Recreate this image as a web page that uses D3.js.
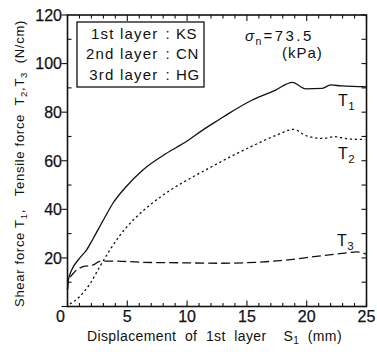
<!DOCTYPE html>
<html>
<head>
<meta charset="utf-8">
<script src="https://cdn.jsdelivr.net/npm/d3@7"></script>
<style>
  html, body { margin: 0; padding: 0; background: #fff; }
  svg { display: block; font-family: "Liberation Sans", Arial, Helvetica, sans-serif; }
</style>
</head>
<body>
<svg id="chart" width="377" height="352"></svg>
<script>
// Shear force T1 and tensile forces T2, T3 against displacement S1
const t1Disp  = [0, 0.05, 0.35, 1.0, 1.6, 2.15, 3.0, 3.8, 4.9, 6.3, 8.25, 9.9, 11.3, 12.7, 13.5, 15.45, 17.4, 18.8, 19.9, 21.3, 22.0, 22.9, 24.7, 25];
const t1Force = [7, 10.5, 15, 19.8, 23.3, 28, 35.6, 42.5, 49.3, 56.2, 63, 67.8, 72.6, 77, 79.5, 85, 89.1, 92.3, 89.6, 89.8, 91.2, 90.8, 90.5, 90.4];

const t2Disp  = [0.2, 1.0, 1.9, 2.7, 3.55, 4.4, 5.5, 6.9, 8.6, 10.5, 12.3, 13.6, 15.6, 17.5, 18.9, 20.0, 21.4, 22.3, 23.7, 24.9];
const t2Force = [1.0, 4, 9.5, 16.4, 23.3, 29.4, 35.6, 41.8, 47.9, 53.4, 58.2, 61.6, 66.4, 70.6, 72.9, 70.2, 69.2, 69.9, 68.9, 68.8];

const t3Disp  = [0, 0.05, 0.5, 1.3, 2.15, 2.7, 3.8, 6.3, 9.4, 12.7, 17.8, 20.6, 23.4, 24.2, 25];
const t3Force = [7, 10.2, 13.7, 16.4, 17.1, 18.6, 18.7, 18.2, 18.0, 17.8, 18.9, 20.5, 22.1, 22.5, 21.6];

const xTicks = [0, 5, 10, 15, 20, 25];
const yTicks = [0, 20, 40, 60, 80, 100, 120];
const legendLayers = ["1st layer", "2nd layer", "3rd layer"];
const legendSoils  = ["KS", "CN", "HG"];

const svg = d3.select("#chart");
const x = d3.scaleLinear().domain([0, 25]).range([67.5, 366.5]);
const y = d3.scaleLinear().domain([0, 120]).range([306.5, 15]);
const ink = "#111";

// tick marks around the frame
const g = svg.append("g").attr("stroke", ink).attr("stroke-width", 1.1);
d3.range(0, 26).forEach(v => {
  const len = v % 5 === 0 ? 6 : 3.5;
  g.append("line").attr("x1", x(v)).attr("x2", x(v)).attr("y1", y(0)).attr("y2", y(0) - len);
  g.append("line").attr("x1", x(v)).attr("x2", x(v)).attr("y1", y(120)).attr("y2", y(120) + len);
});
d3.range(0, 121, 10).forEach(v => {
  if (v % 20 === 0) {
    g.append("line").attr("x1", x(0) - 6).attr("x2", x(0)).attr("y1", y(v)).attr("y2", y(v));
  } else {
    g.append("line").attr("x1", x(0)).attr("x2", x(0) + 4).attr("y1", y(v)).attr("y2", y(v));
  }
  g.append("line").attr("x1", x(25) - 5).attr("x2", x(25)).attr("y1", y(v)).attr("y2", y(v));
});

// frame
svg.append("rect")
  .attr("x", x(0)).attr("y", y(120))
  .attr("width", x(25) - x(0)).attr("height", y(0) - y(120))
  .attr("fill", "none").attr("stroke", ink).attr("stroke-width", 1.6);

// tick labels
svg.append("g").selectAll("text").data(xTicks).join("text")
  .attr("x", d => d === 0 ? x(0) - 2.5 : x(d))
  .attr("y", 321.5)
  .attr("text-anchor", d => d === 0 ? "end" : "middle")
  .attr("font-size", 16).attr("fill", ink)
  .attr("stroke", ink).attr("stroke-width", 0.25)
  .text(d => d);
svg.append("g").selectAll("text").data(yTicks.filter(d => d > 0)).join("text")
  .attr("x", 62).attr("y", d => y(d) + 5.8)
  .attr("text-anchor", "end")
  .attr("font-size", 16).attr("fill", ink)
  .attr("stroke", ink).attr("stroke-width", 0.25)
  .text(d => d);

// curves
const line = d3.line().x(d => x(d[0])).y(d => y(d[1])).curve(d3.curveMonotoneX);
const zip = (a, b) => a.map((v, i) => [v, b[i]]);
svg.append("path").datum(zip(t1Disp, t1Force)).attr("d", line)
  .attr("fill", "none").attr("stroke", ink).attr("stroke-width", 1.3);
svg.append("path").datum(zip(t2Disp, t2Force)).attr("d", line)
  .attr("fill", "none").attr("stroke", ink).attr("stroke-width", 1.3)
  .attr("stroke-dasharray", "2.2,2.8");
svg.append("path").datum(zip(t3Disp, t3Force)).attr("d", line)
  .attr("fill", "none").attr("stroke", ink).attr("stroke-width", 1.3)
  .attr("stroke-dasharray", "9,4");

// curve labels
function subLabel(px, py, main, sub, size) {
  const t = svg.append("text").attr("x", px).attr("y", py)
    .attr("font-size", size).attr("fill", ink);
  t.append("tspan").text(main);
  t.append("tspan").attr("font-size", size * 0.72).attr("dy", 4).attr("dx", 0.5).text(sub);
  return t;
}
subLabel(338, 106, "T", "1", 16);
subLabel(338, 159, "T", "2", 16);
subLabel(337, 246, "T", "3", 16);

// legend box
svg.append("rect").attr("x", 77).attr("y", 22).attr("width", 127).attr("height", 65)
  .attr("fill", "#fff").attr("stroke", ink).attr("stroke-width", 1.3);
const lg = svg.append("g").attr("font-size", 15).attr("fill", ink);
legendLayers.forEach((name, i) => {
  const by = 38.5 + i * 20.5;
  lg.append("text").attr("x", 158.5).attr("y", by).attr("text-anchor", "end")
    .attr("letter-spacing", 1.2).text(name);
  lg.append("text").attr("x", 165.5).attr("y", by).text(":");
  lg.append("text").attr("x", 176).attr("y", by).attr("letter-spacing", 0.6).text(legendSoils[i]);
});

// normal stress annotation
const st = svg.append("text").attr("x", 245).attr("y", 41).attr("font-size", 15).attr("fill", ink);
st.append("tspan").attr("font-style", "italic").text("σ");
st.append("tspan").attr("font-size", 10.5).attr("dy", 4).attr("dx", 1.5).text("n");
st.append("tspan").attr("dy", -4).attr("dx", 2).attr("letter-spacing", 2.5).text("=73.5");
svg.append("text").attr("x", 282).attr("y", 58).attr("font-size", 15).attr("fill", ink)
  .attr("letter-spacing", 1).text("(kPa)");

// fit a text element to a given length by spreading its glyphs
function fitLength(sel, target) {
  const natural = sel.node().getComputedTextLength();
  const glyphs = sel.text().length;
  const extra = (target - natural) / glyphs;
  if (extra > 0) sel.attr("letter-spacing", extra.toFixed(2));
}

// x-axis title
const xt = svg.append("text").attr("x", 87).attr("y", 341)
  .attr("font-size", 14).attr("fill", ink).attr("xml:space", "preserve");
xt.append("tspan").text("Displacement  of  1st  layer    S");
xt.append("tspan").attr("font-size", 10).attr("dy", 3).text("1");
xt.append("tspan").attr("dy", -3).text("  (mm)");
fitLength(xt, 255);

// y-axis title
const yt = svg.append("text")
  .attr("transform", "translate(23.5,163.5) rotate(-90)")
  .attr("text-anchor", "middle").attr("font-size", 13).attr("fill", ink)
  .attr("xml:space", "preserve");
yt.append("tspan").text("Shear force T");
yt.append("tspan").attr("font-size", 9.5).attr("dy", 3).text("1");
yt.append("tspan").attr("dy", -3).text(",   Tensile force  T");
yt.append("tspan").attr("font-size", 9.5).attr("dy", 3).text("2");
yt.append("tspan").attr("dy", -3).text(",T");
yt.append("tspan").attr("font-size", 9.5).attr("dy", 3).text("3");
yt.append("tspan").attr("dy", -3).text("  (N/cm)");
fitLength(yt, 287);
</script>
</body>
</html>
